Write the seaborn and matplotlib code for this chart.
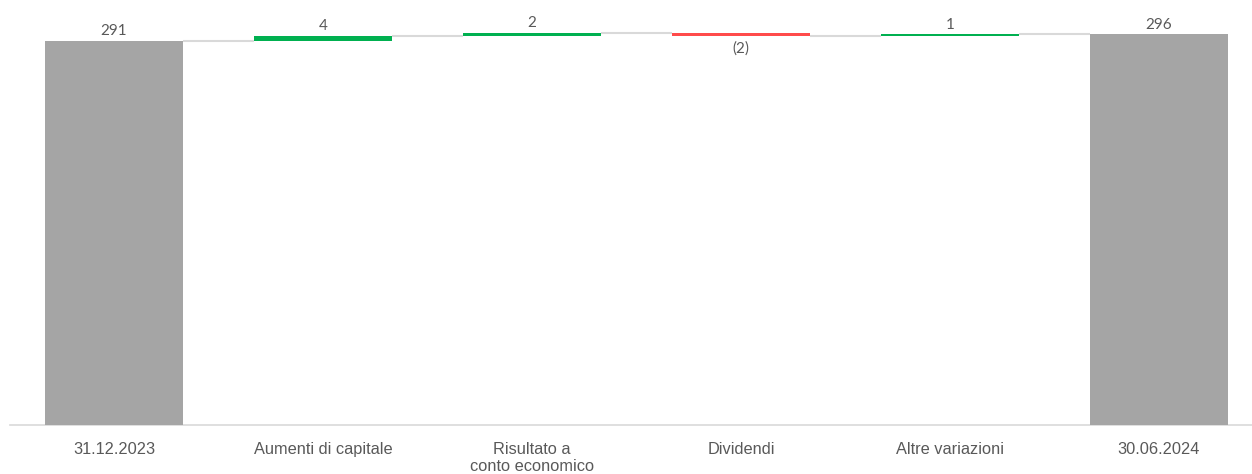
import numpy as np
import matplotlib
matplotlib.use('Agg')
import matplotlib.pyplot as plt
import seaborn as sns

# data
labels = ['31.12.2023', 'Aumenti di capitale', 'Risultato a\nconto economico',
          'Dividendi', 'Altre variazioni', '30.06.2024']
values = [291, 4, 2, -2, 1, 296]
is_total = [True, False, False, False, False, True]

# waterfall geometry from the values
bottoms, heights, levels = [], [], []
running = 0
for v, tot in zip(values, is_total):
    if tot:
        bottoms.append(0)
        running = v
    else:
        bottoms.append(running)
        running += v
    heights.append(v)
    levels.append(running)

colors = []
for v, tot in zip(values, is_total):
    if tot:
        colors.append('#A5A5A5')
    elif v >= 0:
        colors.append('#00B050')
    else:
        colors.append('#FF4B4B')

sns.set_style('white')
plt.rcParams['font.family'] = ['Liberation Sans', 'DejaVu Sans']

fig = plt.figure(figsize=(12.52, 4.74), dpi=100)
ax = fig.add_axes([9.5 / 1252, 49 / 474, (1252 - 9.5) / 1252, 425 / 474])

width = 0.66
sns.barplot(x=labels, y=heights, bottom=bottoms, color='#A5A5A5',
            width=width, saturation=1, ax=ax, zorder=3)
for p, c in zip(ax.patches, colors):
    p.set_facecolor(c)
    p.set_edgecolor('none')

# connectors
for i in range(len(values) - 1):
    ax.plot([i + width / 2, i + 1 - width / 2], [levels[i], levels[i]],
            color='#D9D9D9', lw=1.5, zorder=2, solid_capstyle='butt')

# value labels
for i, (v, b, h) in enumerate(zip(values, bottoms, heights)):
    top = max(b, b + h)
    low = min(b, b + h)
    if v >= 0:
        ax.annotate(f'{v}', (i, top), xytext=(0, 2), textcoords='offset points',
                    ha='center', va='bottom', fontsize=11, color='#595959',
                    family=['Lato', 'DejaVu Sans'])
    else:
        ax.annotate(f'({abs(v)})', (i, low), xytext=(0, -4), textcoords='offset points',
                    ha='center', va='top', fontsize=11, color='#595959',
                    family=['Lato', 'DejaVu Sans'])

ax.set_xlim(-0.5, (1252 - 114) / 209)
ax.set_ylim(0, 322)
ax.set_yticks([])
ax.set_ylabel('')
for s in ['top', 'left', 'right']:
    ax.spines[s].set_visible(False)
ax.spines['bottom'].set_color('#D9D9D9')
ax.spines['bottom'].set_linewidth(1.2)
ax.tick_params(axis='x', length=0, pad=12, labelsize=11.8, labelcolor='#595959')

fig.savefig('out.png', dpi=100)
